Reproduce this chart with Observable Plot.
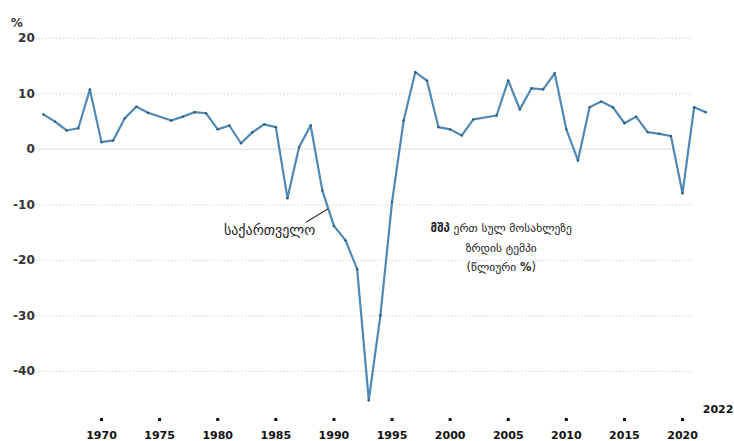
<!DOCTYPE html>
<html><head><meta charset="utf-8">
<script src="https://cdn.jsdelivr.net/npm/d3@7"></script>
<script src="https://cdn.jsdelivr.net/npm/@observablehq/plot@0.6"></script>
<style>
html,body{margin:0;padding:0;background:#fff;}
#chart{width:734px;height:441px;overflow:hidden;}
</style></head><body><div id="chart"></div>
<script>
// Years of the plotted dots, as placed against the picture's own year axis
const years = [1965,1966,1967,1968,1969,1970,1971,1972,1973,1974,
               1976,1977,1978,1979,1980,1981,1982,1983,1984,1985,
               1986,1987,1988,1989,1990,1991,1992,1993,1994,1995,
               1996,1997,1998,1999,2000,2001,2002,2004,2005,2006,
               2007,2008,2009,2010,2011,2012,2013,2014,2015,2016,
               2017,2018,2019,2020,2021,2022];
// GDP per capita growth, %
const growth = [6.3,5.0,3.4,3.8,10.8,1.3,1.6,5.6,7.7,6.6,
                5.2,5.9,6.7,6.5,3.6,4.3,1.1,3.1,4.5,4.0,
                -8.8,0.4,4.3,-7.4,-13.8,-16.4,-21.6,-45.2,-29.9,-9.5,
                5.2,13.9,12.4,4.0,3.6,2.5,5.4,6.1,12.4,7.2,
                11.0,10.8,13.7,3.6,-2.0,7.6,8.6,7.6,4.7,5.9,
                3.1,2.8,2.4,-7.9,7.6,6.7];
const yTicks = [20,10,0,-10,-20,-30,-40];
const xTicks = [1970,1975,1980,1985,1990,1995,2000,2005,2010,2015,2020];
const seriesLabel = "საქართველო";
const captionLines = ["მშპ ერთ სულ მოსახლეზე","ზრდის ტემპი","(წლიური %)"];
const unitLabel = "%";
const lastYearLabel = "2022";

const data = years.map((year, i) => ({year, value: growth[i]}));

const chart = Plot.plot({
  width: 734, height: 441,
  marginLeft: 31.3, marginRight: 17.1, marginTop: 10.1, marginBottom: 23,
  x: {domain: [1964, 2023]},
  y: {domain: [-48.5, 25]},
  style: {fontFamily: "DejaVu Sans", background: "#fff", color: "#222"},
  marks: [
    Plot.ruleY(yTicks.filter(d => d !== 0), {x1: 1964.3, x2: 2020.9, stroke: "#dadada", strokeWidth: 1.3, strokeDasharray: "1.5,2"}),
    Plot.ruleY([0], {x1: 1964.3, x2: 2019.5, stroke: "#e8e8e8", strokeWidth: 1.5}),
    Plot.axisY({ticks: yTicks, tickSize: 0, tickPadding: 0, dx: 3, fontSize: 12, fontWeight: "bold",
      fill: "#333", tickFormat: d => d < 0 ? "-" + (-d) : String(d), label: null}),
    Plot.axisX({ticks: xTicks, tickSize: 3, strokeWidth: 3, stroke: "#111", tickPadding: 10, fontSize: 11,
      fontWeight: "bold", fill: "#111", tickFormat: d => String(d), label: null}),
    Plot.line(data, {x: "year", y: "value", stroke: "#5088b5", strokeWidth: 2.2}),
    Plot.dot(data, {x: "year", y: "value", r: 1.2, fill: "#2d5a7a"}),
    Plot.link([seriesLabel], {x1: 1987.6, y1: -13.15, x2: 1989.5, y2: -10.7, stroke: "#333", strokeWidth: 1.2}),
    Plot.text([seriesLabel], {x: 1984.46, y: -14.6, fontSize: 14, fill: "#222"}),
    Plot.text([captionLines.join("\n")], {x: 2004.4, y: -17.3, fontSize: 11.5, lineHeight: 1.72, fill: "#222"}),
    Plot.text([unitLabel], {frameAnchor: "top-left", dx: -21, dy: 8, fontSize: 12, fontWeight: "bold", fill: "#333"}),
    Plot.text([lastYearLabel], {frameAnchor: "bottom-right", dx: 16, dy: -6, textAnchor: "end", fontSize: 11, fontWeight: "bold", fill: "#111"})
  ]
});
document.getElementById("chart").appendChild(chart);

// bold the abbreviation and the percent sign in the caption
d3.select(chart).selectAll("tspan").each(function() {
  const t = this.textContent;
  if (t === captionLines[0]) {
    const [first, ...rest] = t.split(" ");
    this.textContent = "";
    d3.select(this).append("tspan").attr("font-weight", "bold").text(first);
    d3.select(this).append("tspan").text(" " + rest.join(" "));
  } else if (t === captionLines[2]) {
    const i = t.indexOf("%");
    this.textContent = "";
    d3.select(this).append("tspan").text(t.slice(0, i));
    d3.select(this).append("tspan").attr("font-weight", "bold").text("%");
    d3.select(this).append("tspan").text(t.slice(i + 1));
  }
});
</script>
</body></html>
